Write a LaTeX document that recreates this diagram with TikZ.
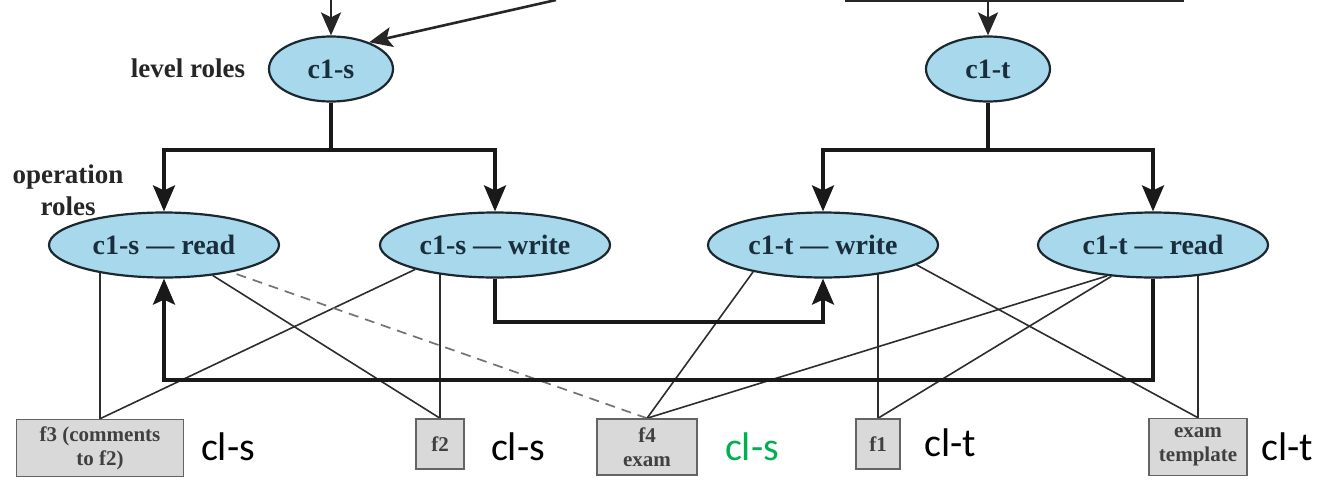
\documentclass[tikz,border=0pt]{standalone}
\usepackage{fontspec}
\setmainfont{Liberation Serif}
\newfontfamily\labfont{Carlito}
\usetikzlibrary{arrows.meta,backgrounds,calc,shapes.geometric}
\definecolor{ellfill}{RGB}{168,216,235}
\definecolor{ellline}{RGB}{28,40,48}
\definecolor{elltext}{RGB}{25,45,60}
\definecolor{boxfill}{RGB}{217,217,217}
\definecolor{boxline}{RGB}{100,100,100}
\definecolor{thinc}{RGB}{45,45,45}
\definecolor{lgreen}{RGB}{0,176,80}
\begin{document}
\begin{tikzpicture}[x=1pt,y=-1pt,
  lvl/.style={ellipse, draw=ellline, line width=2.2pt, fill=ellfill,
    minimum width=124pt, minimum height=65pt, inner sep=0pt,
    font=\fontsize{28}{30}\selectfont\bfseries, text=elltext},
  op/.style={lvl, minimum width=230pt, minimum height=65pt},
  fbox/.style={rectangle, draw=boxline, line width=1.5pt, fill=boxfill,
    inner sep=0pt, font=\fontsize{21}{24}\selectfont\bfseries,
    text=black!75, align=center},
  txt/.style={inner sep=0pt, font=\fontsize{27}{32}\selectfont\bfseries,
    text=black!85, align=center},
  lab/.style={inner sep=0pt, font=\labfont\fontsize{40}{40}\selectfont},
  thk/.style={line width=3.5pt, draw=black!90, line join=miter},
  topl/.style={line width=2.6pt, draw=black!85},
  arr/.style={-{Stealth[length=26pt,width=22pt,inset=5pt]}},
  tarr/.style={-{Stealth[length=23pt,width=20pt,inset=5pt]}},
  thn/.style={line width=1.6pt, draw=thinc},
  dsh/.style={line width=1.7pt, draw=black!55, dash pattern=on 10pt off 7pt}
]
\useasboundingbox (0,0) rectangle (1324,479);
% role nodes
\node[lvl] (cs) at (331,69) {c1-s};
\node[lvl] (ct) at (988,69) {c1-t};
\node[op] (sr) at (164,245) {c1-s \textemdash\ read};
\node[op] (sw) at (495,245) {c1-s \textemdash\ write};
\node[op] (tw) at (823,245) {c1-t \textemdash\ write};
\node[op] (tr) at (1153,245) {c1-t \textemdash\ read};
\node[txt] (lr) at (188,68) {level roles};
\node[txt] (or) at (68,190) {operation\\roles};
% file boxes
\node[fbox, minimum width=167pt, minimum height=57pt] (f3) at (100,448) {f3 (comments\\to f2)};
\node[fbox, minimum width=48pt, minimum height=50pt] (f2) at (440,444) {f2};
\node[fbox, minimum width=100pt, minimum height=56pt] (f4) at (647,447) {f4\\exam};
\node[fbox, minimum width=44pt, minimum height=50pt] (f1) at (878,444) {f1};
\node[fbox, minimum width=98pt, minimum height=57pt] (tmpl) at (1198,447) {exam\\template};
% labels
\node[lab] (L1) at (228,447) {cl-s};
\node[lab] (L2) at (518,447) {cl-s};
\node[lab, text=lgreen] (L3) at (752,447) {cl-s};
\node[lab] (L4) at (950,443) {cl-t};
\node[lab] (L5) at (1287,447) {cl-t};
% coordinates
\coordinate (in1) at (331,0);
\coordinate (in2) at (556,0);
\coordinate (inL) at (845,1);
\coordinate (inR) at (1184,1);
\coordinate (inM) at (988,1);
\coordinate (bs) at (331,150);
\coordinate (bt) at (988,150);
\coordinate (l1) at (495,322);
\coordinate (l2) at (1153,380);
% top inputs
\draw[topl, tarr] (in1) -- (cs);
\draw[topl, tarr] (in2) -- (cs.35);
\draw[topl] (inL) -- (inR);
\draw[topl, tarr] (inM) -- (ct);
% hierarchy
\draw[thk] (cs.south) -- (bs);
\draw[thk, arr] (bs) -| (sr);
\draw[thk, arr] (bs) -| (sw);
\draw[thk] (ct.south) -- (bt);
\draw[thk, arr] (bt) -| (tw);
\draw[thk, arr] (bt) -| (tr);
\draw[thk, arr] (sw.south) -- (l1) -| (tw);
\draw[thk, arr] (tr.south) -- (l2) -| (sr);
% thin links
\begin{scope}[on background layer]
\draw[thn] (f3.north) -- (f3.north |- sr.center);
\draw[thn] (f3.north) -- (sw.-163);
\draw[thn] (f2.north) -- (sr.-32);
\draw[thn] (f2.north) -- (f2.north |- sw.center);
\draw[dsh] (f4.north) -- (sr.-22);
\draw[thn] (f4.north) -- (tw.-159);
\draw[thn] (f4.north) -- (tr.-146);
\draw[thn] (f1.north) -- (f1.north |- tw.center);
\draw[thn] (f1.north) -- (tr.-143);
\draw[thn] (tmpl.north) -- (tw.-12);
\draw[thn] (tmpl.north) -- (tmpl.north |- tr.center);
\end{scope}
\end{tikzpicture}
\end{document}
